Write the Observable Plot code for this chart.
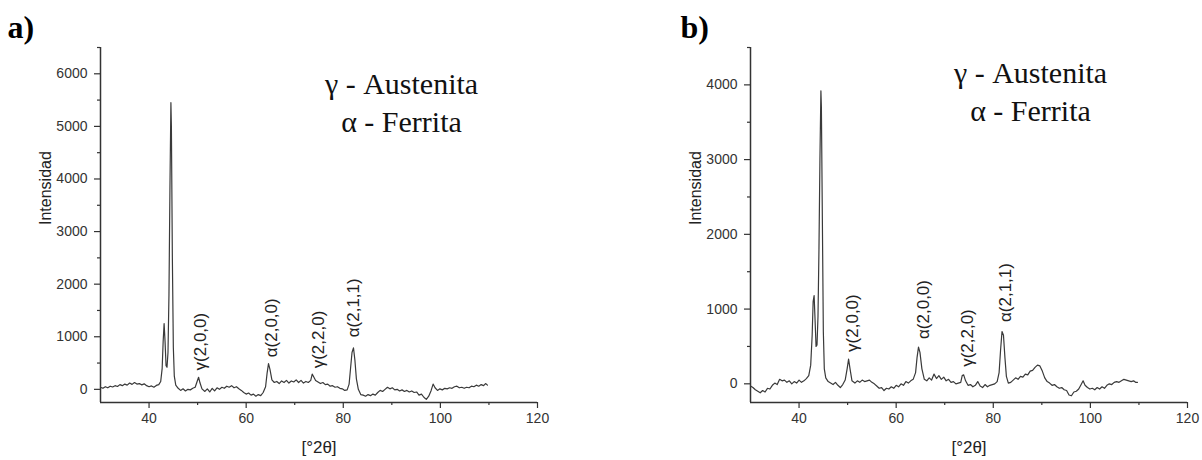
<!DOCTYPE html>
<html>
<head>
<meta charset="utf-8">
<script src="https://cdn.jsdelivr.net/npm/d3@7"></script>
<script src="https://cdn.jsdelivr.net/npm/@observablehq/plot@0.6"></script>
<style>
  body { margin: 0; background: #fff; }
  #wrap { position: relative; width: 1202px; height: 460px; overflow: hidden; }
  #chartA, #chartB { position: absolute; top: 0; }
  #chartA { left: 0; }
  #chartB { left: 650px; }
</style>
</head>
<body>
<div id="wrap"><div id="chartA"></div><div id="chartB"></div></div>
<script>
// ---- Data ----
const angle = [
  30,30.5,31,31.5,32,32.5,33,33.5,34,34.5,35,35.5,36,36.5,37,37.5,38,38.5,39,39.5,40,40.5,41,41.5,42,42.4,
  42.7,42.9,43.1,43.3,43.5,43.7,43.9,44.1,44.3,44.5,44.6,44.8,45.0,45.2,45.5,
  46,46.5,47,47.5,48,48.5,49,49.5,49.9,50.2,50.5,50.9,
  51.5,52,52.5,53,53.5,54,54.5,55,55.5,56,56.5,57,57.5,58,58.5,59,59.5,60,60.5,61,61.5,62,62.5,63,63.5,64,64.3,64.6,64.9,65.3,65.8,
  66.3,66.8,67.3,67.8,68.3,68.8,69.3,69.8,70.3,70.8,71.3,71.8,72.3,72.8,73.3,73.6,73.9,74.3,74.8,
  75.3,75.8,76.3,76.8,77.3,77.8,78.3,78.8,79.3,79.8,80.3,80.8,81.2,81.5,81.8,82.1,82.4,82.7,83.1,83.6,
  84.1,84.6,85.1,85.6,86.1,86.6,87.1,87.6,88.1,88.6,89.1,89.6,90.1,90.6,91.1,91.6,92.1,92.6,93.1,93.6,94.1,94.6,95.1,95.6,96.1,96.6,97.1,97.6,98.1,98.5,98.9,99.4,99.9,
  100.4,100.9,101.4,101.9,102.4,102.9,103.4,103.9,104.4,104.9,105.4,105.9,106.4,106.9,107.4,107.9,108.4,108.9,109.3,109.7
];

const intensityA = [
  40,20,50,30,60,45,70,55,90,70,100,80,120,95,130,100,110,85,105,70,50,65,40,75,90,150,
  400,900,1250,900,450,420,700,1800,3800,5450,5000,2500,800,250,80,
  20,-20,10,-30,0,-10,20,40,150,230,120,10,
  -40,10,-50,20,-30,30,0,40,20,60,40,70,30,50,10,-20,-60,-90,-70,-110,-90,-130,-100,-120,-60,50,300,490,380,180,130,
  150,110,160,130,170,120,160,140,180,130,170,120,150,130,170,290,240,170,140,
  110,130,90,100,60,70,40,50,20,10,-20,-10,100,400,700,790,550,200,0,-100,
  -110,-130,-100,-120,-90,-110,-60,-20,-40,0,40,10,30,-10,0,-30,-10,-40,-20,-50,-30,-60,-50,-110,-90,-150,-190,-130,-20,100,30,-20,10,
  -10,20,10,30,20,50,60,30,40,20,40,30,60,50,80,60,90,70,110,80
];

const intensityB = [
  -30,-50,-80,-100,-120,-90,-110,-60,-70,-20,10,-10,60,40,50,20,40,0,30,10,50,20,40,70,110,250,
  650,1100,1180,850,500,520,900,1800,3000,3920,3700,2200,700,200,80,
  30,10,-10,20,-20,-50,-10,50,200,330,200,40,
  10,40,20,50,30,40,50,20,0,-30,-60,-50,-90,-60,-70,-40,-60,-20,-40,0,-20,30,10,40,60,150,350,490,420,200,60,
  40,80,50,130,70,110,60,90,40,60,20,30,0,10,20,110,120,40,-20,
  -10,-40,-20,30,-30,-50,-10,-40,-20,-10,0,30,150,450,700,650,350,100,10,20,
  50,80,60,100,90,130,120,170,180,220,250,240,170,80,30,10,-20,-10,-40,-60,-50,-80,-90,-150,-160,-110,-100,-70,-10,40,-20,-50,-70,
  -60,-80,-50,-70,-40,-60,-20,0,-10,20,30,20,40,60,50,40,30,40,20,20
];

const peakLabels = ["γ(2,0,0)", "α(2,0,0)", "γ(2,2,0)", "α(2,1,1)"];
const peakAngleA = [50.6, 65.2, 74.9, 82.1];
const peakIntensityA = [360, 610, 400, 990];
const peakAngleB = [51.0, 65.6, 74.6, 82.5];
const peakIntensityB = [427, 600, 227, 827];

const xDomain = [30, 120];
const xMajor = [40, 60, 80, 100, 120];
const xMinor = [50, 70, 90, 110];
const yDomainA = [-250, 6500];
const yMajorA = [0, 1000, 2000, 3000, 4000, 5000, 6000];
const yMinorA = [500, 1500, 2500, 3500, 4500, 5500, 6500];
const yDomainB = [-250, 4500];
const yMajorB = [0, 1000, 2000, 3000, 4000];
const yMinorB = [500, 1500, 2500, 3500, 4500];

const legendLines = ["γ - Austenita", "α - Ferrita"];
const xTitle = "[°2θ]";
const yTitle = "Intensidad";

if (angle.length !== intensityA.length || angle.length !== intensityB.length) {
  console.error("length mismatch", angle.length, intensityA.length, intensityB.length);
}

// ---- Drawing ----
const sans = "'Liberation Sans', Arial, sans-serif";
const serif = "'Liberation Serif', 'Times New Roman', serif";
const ink = "#333";

function makeChart({panel, values, yDomain, yMajor, yMinor, pAngle, pInt, width, marginRight, legendDx, legendDy, panelDx}) {
  const series = angle.map((a, i) => ({angle: a, intensity: values[i]}));
  const peaks = peakLabels.map((t, i) => ({label: t, angle: pAngle[i], intensity: pInt[i]}));
  return Plot.plot({
    width, height: 460,
    marginLeft: 100, marginRight, marginTop: 47, marginBottom: 58,
    x: {domain: xDomain, label: null},
    y: {domain: yDomain, label: null},
    style: {fontFamily: sans, fontSize: "14px", color: ink, background: "transparent", overflow: "visible"},
    marks: [
      Plot.ruleX([xDomain[0]], {stroke: ink, strokeWidth: 1.5}),
      Plot.ruleY([yDomain[0]], {stroke: ink, strokeWidth: 1.5}),
      Plot.axisX({ticks: xMajor, tickSize: 6, tickPadding: 5, tickFormat: d => String(d), label: null, fontSize: 14, strokeWidth: 1.2}),
      Plot.axisX({ticks: xMinor, tickSize: 3, tickFormat: () => "", label: null, strokeWidth: 1.2}),
      Plot.axisY({ticks: yMajor, tickSize: 6, tickPadding: 7, tickFormat: d => String(d), label: null, fontSize: 14, strokeWidth: 1.2}),
      Plot.axisY({ticks: yMinor, tickSize: 3, tickFormat: () => "", label: null, strokeWidth: 1.2}),
      Plot.line(series, {x: "angle", y: "intensity", stroke: "#3a3a3a", strokeWidth: 1.2}),
      Plot.text(peaks, {x: "angle", y: "intensity", text: "label", rotate: -90, textAnchor: "start",
        fontSize: 17, fontFamily: sans, fill: "#222"}),
      Plot.text([yTitle], {text: d => d, frameAnchor: "left", dx: -50, rotate: -90, lineAnchor: "bottom",
        fontSize: 16, fontFamily: sans, fill: "#222"}),
      Plot.text([xTitle], {text: d => d, frameAnchor: "bottom", dy: 50, lineAnchor: "bottom",
        fontSize: 17, fontFamily: sans, fill: "#222"}),
      Plot.text([legendLines[0]], {text: d => d, frameAnchor: "top-left", dx: legendDx, dy: legendDy[0],
        lineAnchor: "bottom", textAnchor: "middle", fontSize: 30, fontFamily: serif, fill: "#111"}),
      Plot.text([legendLines[1]], {text: d => d, frameAnchor: "top-left", dx: legendDx, dy: legendDy[1],
        lineAnchor: "bottom", textAnchor: "middle", fontSize: 30, fontFamily: serif, fill: "#111"}),
      Plot.text([panel], {text: d => d, frameAnchor: "top-left", dx: panelDx, dy: -10, lineAnchor: "bottom",
        textAnchor: "start", fontSize: 32, fontWeight: "bold", fontFamily: serif, fill: "#000"})
    ]
  });
}

document.getElementById("chartA").append(makeChart({
  panel: "a)", values: intensityA, yDomain: yDomainA, yMajor: yMajorA, yMinor: yMinorA,
  pAngle: peakAngleA, pInt: peakIntensityA, width: 560, marginRight: 23,
  legendDx: 301, legendDy: [46, 84], panelDx: -93
}));
document.getElementById("chartB").append(makeChart({
  panel: "b)", values: intensityB, yDomain: yDomainB, yMajor: yMajorB, yMinor: yMinorB,
  pAngle: peakAngleB, pInt: peakIntensityB, width: 552, marginRight: 15,
  legendDx: 280, legendDy: [35, 73], panelDx: -70
}));
</script>
</body>
</html>
